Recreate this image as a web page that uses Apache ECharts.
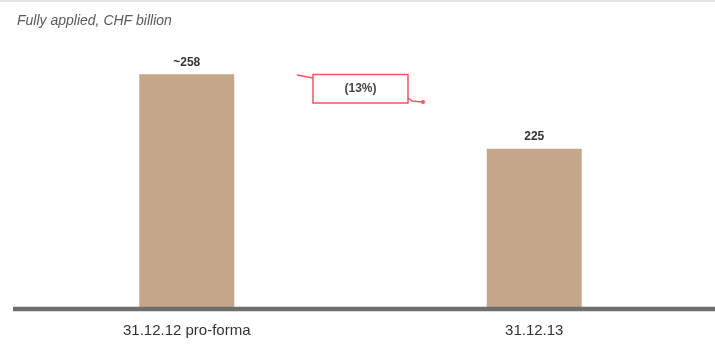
<!DOCTYPE html>
<html>
<head>
<meta charset="utf-8">
<script src="https://cdn.jsdelivr.net/npm/echarts@6/dist/echarts.min.js"></script>
<style>
html,body{margin:0;padding:0;background:#fff;}
#chart{width:715px;height:352px;}
</style>
</head>
<body>
<div id="chart"></div>
<script>
var categories = ['31.12.12 pro-forma', '31.12.13'];
var values = [258, 225];
var valueLabels = ['~258', '225'];
var subtitle = 'Fully applied, CHF billion';
var changeLabel = '(13%)';

var chart = echarts.init(document.getElementById('chart'), null, {renderer: 'canvas'});
var font = '"Liberation Sans", Arial, sans-serif';
chart.setOption({
  animation: false,
  backgroundColor: '#ffffff',
  title: {
    text: subtitle,
    left: 12, top: 9,
    textStyle: {fontFamily: font, fontStyle: 'italic', fontWeight: 'normal', fontSize: 14, color: '#5a5a5a'}
  },
  grid: {left: 13, right: 7, top: 20, bottom: 45},
  xAxis: {
    type: 'category',
    data: categories,
    axisLine: {show: false},
    axisTick: {show: false},
    axisLabel: {margin: 16, fontFamily: font, fontSize: 15, color: '#333333'}
  },
  yAxis: {
    type: 'value', min: 155, max: 282,
    show: false, splitLine: {show: false}
  },
  series: [{
    type: 'bar',
    data: values,
    barWidth: 95,
    itemStyle: {color: '#c5a68b'},
    label: {
      show: true, position: 'top', distance: 6,
      formatter: function (p) { return valueLabels[p.dataIndex]; },
      fontFamily: font, fontSize: 12, fontWeight: 'bold', color: '#333333'
    }
  }],
  graphic: [
    {type: 'line', shape: {x1: 0, y1: 1, x2: 715, y2: 1}, style: {stroke: '#e2e2e2', lineWidth: 2}},
    {type: 'line', shape: {x1: 13, y1: 309, x2: 715, y2: 309}, style: {stroke: '#6e6e6e', lineWidth: 4.5}, z: 100},
    {type: 'rect', shape: {x: 313, y: 74.5, width: 95, height: 28.5}, style: {fill: '#ffffff', stroke: '#f2555f', lineWidth: 1.5}},
    {type: 'text', style: {x: 360.5, y: 89, text: changeLabel, align: 'center', verticalAlign: 'middle', fontFamily: font, fontSize: 12, fontWeight: 'bold', fill: '#444444'}},
    {type: 'polyline', shape: {points: [[297, 75], [313, 78]]}, style: {stroke: '#f2555f', lineWidth: 1.5, fill: null}},
    {type: 'polyline', shape: {points: [[408, 98], [412, 101], [422, 102]]}, style: {stroke: '#f2555f', lineWidth: 1.5, fill: null}},
    {type: 'circle', shape: {cx: 423, cy: 102, r: 2}, style: {fill: '#f2555f'}}
  ]
});
</script>
</body>
</html>
